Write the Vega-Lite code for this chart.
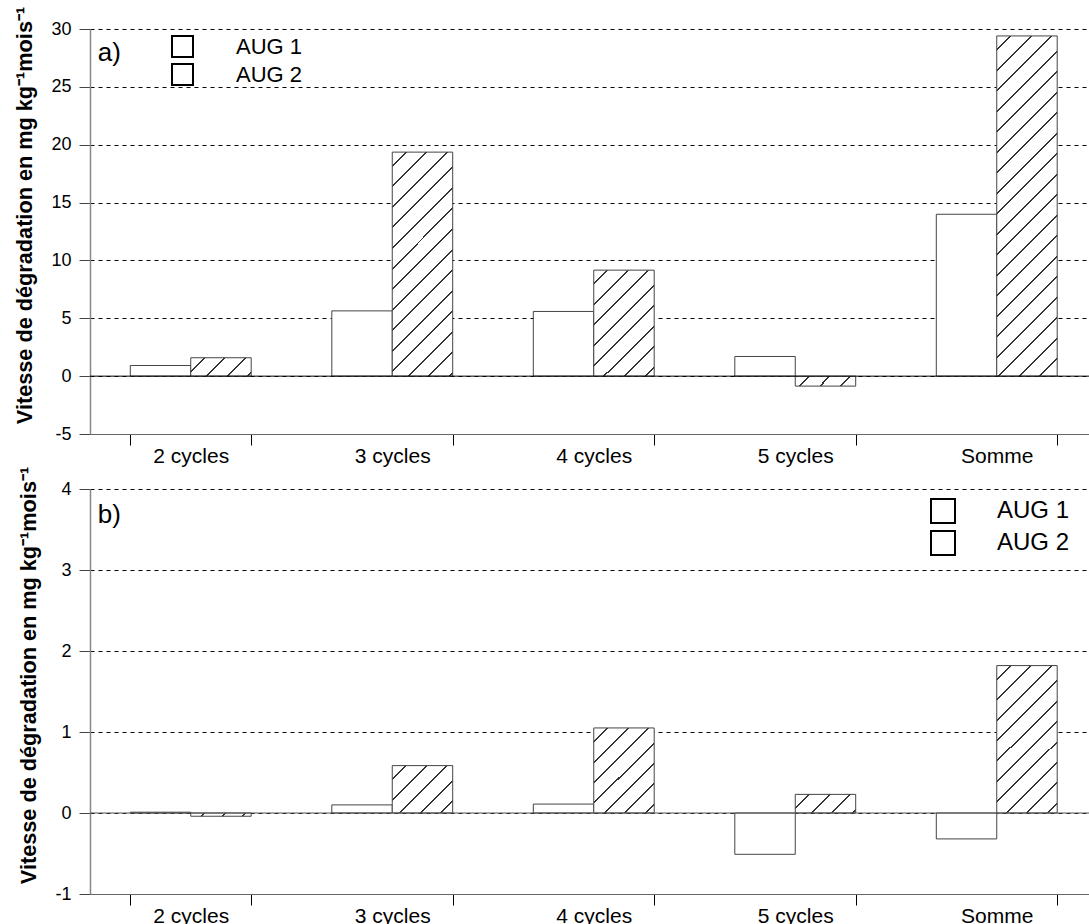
{
  "$schema": "https://vega.github.io/schema/vega-lite/v6.json",
  "padding": {"left": 14, "top": 6, "right": 0, "bottom": 0},
  "config": {
    "font": "Liberation Sans",
    "view": {"stroke": null},
    "axis": {"labelColor": "#000", "titleColor": "#000"},
    "axisY": {"grid": true, "gridDash": [4, 4], "gridColor": "#000", "gridOpacity": 1, "gridWidth": 1, "tickSize": 11, "tickColor": "#444", "domainColor": "#888", "domainWidth": 1.5, "labelFontSize": 18, "labelPadding": 8, "titleFontSize": 21.7, "titleFontWeight": "bold", "titlePadding": 14, "titleY": 186, "labelExpr": "datum.value < 0 ? '-' + abs(datum.value) : '' + datum.value"},
    "axisX": {"grid": false, "tickBand": "extent", "tickSize": 11, "tickColor": "#000", "domainColor": "#666", "labelFontSize": 21, "labelPadding": 0, "labelAngle": 0}
  },
  "datasets": {
    "a": [
      {"cat": "2 cycles", "serie": "AUG 1", "value": 0.92},
      {"cat": "2 cycles", "serie": "AUG 2", "value": 1.59},
      {"cat": "3 cycles", "serie": "AUG 1", "value": 5.64},
      {"cat": "3 cycles", "serie": "AUG 2", "value": 19.36},
      {"cat": "4 cycles", "serie": "AUG 1", "value": 5.59},
      {"cat": "4 cycles", "serie": "AUG 2", "value": 9.16},
      {"cat": "5 cycles", "serie": "AUG 1", "value": 1.7},
      {"cat": "5 cycles", "serie": "AUG 2", "value": -0.86},
      {"cat": "Somme", "serie": "AUG 1", "value": 13.99},
      {"cat": "Somme", "serie": "AUG 2", "value": 29.4}
    ],
    "b": [
      {"cat": "2 cycles", "serie": "AUG 1", "value": 0.01},
      {"cat": "2 cycles", "serie": "AUG 2", "value": -0.04},
      {"cat": "3 cycles", "serie": "AUG 1", "value": 0.1},
      {"cat": "3 cycles", "serie": "AUG 2", "value": 0.585},
      {"cat": "4 cycles", "serie": "AUG 1", "value": 0.11},
      {"cat": "4 cycles", "serie": "AUG 2", "value": 1.05},
      {"cat": "5 cycles", "serie": "AUG 1", "value": -0.51},
      {"cat": "5 cycles", "serie": "AUG 2", "value": 0.23},
      {"cat": "Somme", "serie": "AUG 1", "value": -0.32},
      {"cat": "Somme", "serie": "AUG 2", "value": 1.82}
    ]
  },
  "spacing": 0,
  "resolve": {"scale": {"fill": "independent", "y": "independent"}, "legend": {"fill": "independent"}},
  "vconcat": [
    {
      "width": 1007.5,
      "height": 405,
      "layer": [
        {
          "data": {"name": "a"},
          "mark": {"type": "bar", "stroke": "#444", "strokeWidth": 1},
          "encoding": {
            "x": {"field": "cat", "type": "nominal", "title": null, "scale": {"domain": ["2 cycles", "3 cycles", "4 cycles", "5 cycles", "Somme"], "paddingInner": 0.4, "paddingOuter": 0.2}},
            "xOffset": {"field": "serie", "type": "nominal", "scale": {"domain": ["AUG 1", "AUG 2"], "paddingInner": 0, "paddingOuter": 0}},
            "y": {"field": "value", "type": "quantitative", "title": "Vitesse de dégradation en mg kg⁻¹mois⁻¹", "scale": {"domain": [-5, 30], "nice": false, "zero": false}, "axis": {"values": [-5, 0, 5, 10, 15, 20, 25, 30]}},
            "fill": {
              "field": "serie", "type": "nominal",
              "scale": {"domain": ["AUG 1", "AUG 2"], "range": ["white", "white"]},
              "legend": {"title": null, "orient": "none", "legendX": 81, "legendY": 6, "symbolType": "square", "symbolSize": 441, "symbolStrokeColor": "#000", "symbolStrokeWidth": 2, "symbolOpacity": 1, "labelFontSize": 22, "labelColor": "#000", "labelOffset": 42, "rowPadding": -1, "padding": 0,
                "encode": {"symbols": {"update": {"stroke": {"value": "#000"}, "strokeWidth": {"value": 2}}}}},
              "condition": [
                {"test": "datum.serie === 'AUG 2' && datum.cat === '2 cycles'", "value": {"gradient": "linear", "x1": 0, "y1": 0, "x2": 1.1942, "y2": 0.3655, "stops": [
                  {"offset": 0.1646, "color": "white"}, {"offset": 0.1646, "color": "#333"}, {"offset": 0.19, "color": "#333"}, {"offset": 0.19, "color": "white"},
                  {"offset": 0.4243, "color": "white"}, {"offset": 0.4243, "color": "#333"}, {"offset": 0.4497, "color": "#333"}, {"offset": 0.4497, "color": "white"},
                  {"offset": 0.6839, "color": "white"}, {"offset": 0.6839, "color": "#333"}, {"offset": 0.7093, "color": "#333"}, {"offset": 0.7093, "color": "white"},
                  {"offset": 0.9436, "color": "white"}, {"offset": 0.9436, "color": "#333"}, {"offset": 0.969, "color": "#333"}, {"offset": 0.969, "color": "white"}]}},
                {"test": "datum.serie === 'AUG 2' && datum.cat === '3 cycles'", "value": {"gradient": "linear", "x1": 0, "y1": 0, "x2": 0.3199, "y2": 1.1838, "stops": [
                  {"offset": 0.0458, "color": "white"}, {"offset": 0.0458, "color": "#333"}, {"offset": 0.0528, "color": "#333"}, {"offset": 0.0528, "color": "white"},
                  {"offset": 0.1179, "color": "white"}, {"offset": 0.1179, "color": "#333"}, {"offset": 0.1249, "color": "#333"}, {"offset": 0.1249, "color": "white"},
                  {"offset": 0.1901, "color": "white"}, {"offset": 0.1901, "color": "#333"}, {"offset": 0.1971, "color": "#333"}, {"offset": 0.1971, "color": "white"},
                  {"offset": 0.2622, "color": "white"}, {"offset": 0.2622, "color": "#333"}, {"offset": 0.2692, "color": "#333"}, {"offset": 0.2692, "color": "white"},
                  {"offset": 0.3344, "color": "white"}, {"offset": 0.3344, "color": "#333"}, {"offset": 0.3414, "color": "#333"}, {"offset": 0.3414, "color": "white"},
                  {"offset": 0.4065, "color": "white"}, {"offset": 0.4065, "color": "#333"}, {"offset": 0.4135, "color": "#333"}, {"offset": 0.4135, "color": "white"},
                  {"offset": 0.4786, "color": "white"}, {"offset": 0.4786, "color": "#333"}, {"offset": 0.4856, "color": "#333"}, {"offset": 0.4856, "color": "white"},
                  {"offset": 0.5508, "color": "white"}, {"offset": 0.5508, "color": "#333"}, {"offset": 0.5578, "color": "#333"}, {"offset": 0.5578, "color": "white"},
                  {"offset": 0.6229, "color": "white"}, {"offset": 0.6229, "color": "#333"}, {"offset": 0.6299, "color": "#333"}, {"offset": 0.6299, "color": "white"},
                  {"offset": 0.6951, "color": "white"}, {"offset": 0.6951, "color": "#333"}, {"offset": 0.7021, "color": "#333"}, {"offset": 0.7021, "color": "white"},
                  {"offset": 0.7672, "color": "white"}, {"offset": 0.7672, "color": "#333"}, {"offset": 0.7742, "color": "#333"}, {"offset": 0.7742, "color": "white"},
                  {"offset": 0.8394, "color": "white"}, {"offset": 0.8394, "color": "#333"}, {"offset": 0.8464, "color": "#333"}, {"offset": 0.8464, "color": "white"},
                  {"offset": 0.9115, "color": "white"}, {"offset": 0.9115, "color": "#333"}, {"offset": 0.9185, "color": "#333"}, {"offset": 0.9185, "color": "white"},
                  {"offset": 0.9837, "color": "white"}, {"offset": 0.9837, "color": "#333"}, {"offset": 0.9907, "color": "#333"}, {"offset": 0.9907, "color": "white"}]}},
                {"test": "datum.serie === 'AUG 2' && datum.cat === '4 cycles'", "value": {"gradient": "linear", "x1": 0, "y1": 0, "x2": 0.6735, "y2": 1.1855, "stops": [
                  {"offset": 0.0779, "color": "white"}, {"offset": 0.0779, "color": "#333"}, {"offset": 0.0899, "color": "#333"}, {"offset": 0.0899, "color": "white"},
                  {"offset": 0.2008, "color": "white"}, {"offset": 0.2008, "color": "#333"}, {"offset": 0.2128, "color": "#333"}, {"offset": 0.2128, "color": "white"},
                  {"offset": 0.3236, "color": "white"}, {"offset": 0.3236, "color": "#333"}, {"offset": 0.3356, "color": "#333"}, {"offset": 0.3356, "color": "white"},
                  {"offset": 0.4465, "color": "white"}, {"offset": 0.4465, "color": "#333"}, {"offset": 0.4585, "color": "#333"}, {"offset": 0.4585, "color": "white"},
                  {"offset": 0.5694, "color": "white"}, {"offset": 0.5694, "color": "#333"}, {"offset": 0.5814, "color": "#333"}, {"offset": 0.5814, "color": "white"},
                  {"offset": 0.6922, "color": "white"}, {"offset": 0.6922, "color": "#333"}, {"offset": 0.7042, "color": "#333"}, {"offset": 0.7042, "color": "white"},
                  {"offset": 0.8151, "color": "white"}, {"offset": 0.8151, "color": "#333"}, {"offset": 0.8271, "color": "#333"}, {"offset": 0.8271, "color": "white"},
                  {"offset": 0.938, "color": "white"}, {"offset": 0.938, "color": "#333"}, {"offset": 0.95, "color": "#333"}, {"offset": 0.95, "color": "white"}]}},
                {"test": "datum.serie === 'AUG 2' && datum.cat === '5 cycles'", "value": {"gradient": "linear", "x1": 0, "y1": 0, "x2": 1.1324, "y2": 0.1836, "stops": [
                  {"offset": 0.1851, "color": "white"}, {"offset": 0.1851, "color": "#333"}, {"offset": 0.2135, "color": "#333"}, {"offset": 0.2135, "color": "white"},
                  {"offset": 0.4769, "color": "white"}, {"offset": 0.4769, "color": "#333"}, {"offset": 0.5053, "color": "#333"}, {"offset": 0.5053, "color": "white"},
                  {"offset": 0.7687, "color": "white"}, {"offset": 0.7687, "color": "#333"}, {"offset": 0.7971, "color": "#333"}, {"offset": 0.7971, "color": "white"}]}},
                {"test": "datum.serie === 'AUG 2' && datum.cat === 'Somme'", "value": {"gradient": "linear", "x1": 0, "y1": 0, "x2": 0.2031, "y2": 1.1417, "stops": [
                  {"offset": 0.0325, "color": "white"}, {"offset": 0.0325, "color": "#333"}, {"offset": 0.0375, "color": "#333"}, {"offset": 0.0375, "color": "white"},
                  {"offset": 0.0837, "color": "white"}, {"offset": 0.0837, "color": "#333"}, {"offset": 0.0887, "color": "#333"}, {"offset": 0.0887, "color": "white"},
                  {"offset": 0.1349, "color": "white"}, {"offset": 0.1349, "color": "#333"}, {"offset": 0.1399, "color": "#333"}, {"offset": 0.1399, "color": "white"},
                  {"offset": 0.1861, "color": "white"}, {"offset": 0.1861, "color": "#333"}, {"offset": 0.1911, "color": "#333"}, {"offset": 0.1911, "color": "white"},
                  {"offset": 0.2373, "color": "white"}, {"offset": 0.2373, "color": "#333"}, {"offset": 0.2423, "color": "#333"}, {"offset": 0.2423, "color": "white"},
                  {"offset": 0.2885, "color": "white"}, {"offset": 0.2885, "color": "#333"}, {"offset": 0.2935, "color": "#333"}, {"offset": 0.2935, "color": "white"},
                  {"offset": 0.3397, "color": "white"}, {"offset": 0.3397, "color": "#333"}, {"offset": 0.3447, "color": "#333"}, {"offset": 0.3447, "color": "white"},
                  {"offset": 0.3909, "color": "white"}, {"offset": 0.3909, "color": "#333"}, {"offset": 0.3959, "color": "#333"}, {"offset": 0.3959, "color": "white"},
                  {"offset": 0.4421, "color": "white"}, {"offset": 0.4421, "color": "#333"}, {"offset": 0.4471, "color": "#333"}, {"offset": 0.4471, "color": "white"},
                  {"offset": 0.4933, "color": "white"}, {"offset": 0.4933, "color": "#333"}, {"offset": 0.4983, "color": "#333"}, {"offset": 0.4983, "color": "white"},
                  {"offset": 0.5445, "color": "white"}, {"offset": 0.5445, "color": "#333"}, {"offset": 0.5495, "color": "#333"}, {"offset": 0.5495, "color": "white"},
                  {"offset": 0.5957, "color": "white"}, {"offset": 0.5957, "color": "#333"}, {"offset": 0.6007, "color": "#333"}, {"offset": 0.6007, "color": "white"},
                  {"offset": 0.6469, "color": "white"}, {"offset": 0.6469, "color": "#333"}, {"offset": 0.6519, "color": "#333"}, {"offset": 0.6519, "color": "white"},
                  {"offset": 0.6981, "color": "white"}, {"offset": 0.6981, "color": "#333"}, {"offset": 0.7031, "color": "#333"}, {"offset": 0.7031, "color": "white"},
                  {"offset": 0.7493, "color": "white"}, {"offset": 0.7493, "color": "#333"}, {"offset": 0.7543, "color": "#333"}, {"offset": 0.7543, "color": "white"},
                  {"offset": 0.8005, "color": "white"}, {"offset": 0.8005, "color": "#333"}, {"offset": 0.8055, "color": "#333"}, {"offset": 0.8055, "color": "white"},
                  {"offset": 0.8517, "color": "white"}, {"offset": 0.8517, "color": "#333"}, {"offset": 0.8567, "color": "#333"}, {"offset": 0.8567, "color": "white"},
                  {"offset": 0.9029, "color": "white"}, {"offset": 0.9029, "color": "#333"}, {"offset": 0.9079, "color": "#333"}, {"offset": 0.9079, "color": "white"},
                  {"offset": 0.9541, "color": "white"}, {"offset": 0.9541, "color": "#333"}, {"offset": 0.9591, "color": "#333"}, {"offset": 0.9591, "color": "white"}]}}
              ]
            }
          }
        },
        {
          "data": {"values": [{}]},
          "mark": {"type": "rule", "color": "#000", "strokeWidth": 1},
          "encoding": {"y": {"datum": 0}}
        },
        {
          "data": {"values": [{"label": "a)"}]},
          "mark": {"type": "text", "align": "left", "baseline": "alphabetic", "fontSize": 26, "dx": -93, "color": "#000"},
          "encoding": {"x": {"datum": "2 cycles"}, "y": {"datum": 27.25}, "text": {"field": "label"}}
        }
      ]
    },
    {
      "width": 1007.5,
      "height": 405,
      "layer": [
        {
          "data": {"name": "b"},
          "mark": {"type": "bar", "stroke": "#444", "strokeWidth": 1},
          "encoding": {
            "x": {"field": "cat", "type": "nominal", "title": null, "scale": {"domain": ["2 cycles", "3 cycles", "4 cycles", "5 cycles", "Somme"], "paddingInner": 0.4, "paddingOuter": 0.2}},
            "xOffset": {"field": "serie", "type": "nominal", "scale": {"domain": ["AUG 1", "AUG 2"], "paddingInner": 0, "paddingOuter": 0}},
            "y": {"field": "value", "type": "quantitative", "title": "Vitesse de dégradation en mg kg⁻¹mois⁻¹", "scale": {"domain": [-1, 4], "nice": false, "zero": false}, "axis": {"values": [-1, 0, 1, 2, 3, 4]}},
            "fill": {
              "field": "serie", "type": "nominal",
              "scale": {"domain": ["AUG 1", "AUG 2"], "range": ["white", "white"]},
              "legend": {"title": null, "orient": "none", "legendX": 840, "legendY": 9, "symbolType": "square", "symbolSize": 576, "symbolStrokeColor": "#000", "symbolStrokeWidth": 2, "symbolOpacity": 1, "labelFontSize": 24, "labelColor": "#000", "labelOffset": 41, "rowPadding": 0, "padding": 0,
                "encode": {"symbols": {"update": {"stroke": {"value": "#000"}, "strokeWidth": {"value": 2}}}}},
              "condition": [
                {"test": "datum.serie === 'AUG 2' && datum.cat === '2 cycles'", "value": {"gradient": "linear", "x1": 0, "y1": 0, "x2": 1.0507, "y2": 0.0565, "stops": [
                  {"offset": 0.2041, "color": "white"}, {"offset": 0.2041, "color": "#333"}, {"offset": 0.2355, "color": "#333"}, {"offset": 0.2355, "color": "white"},
                  {"offset": 0.5259, "color": "white"}, {"offset": 0.5259, "color": "#333"}, {"offset": 0.5573, "color": "#333"}, {"offset": 0.5573, "color": "white"},
                  {"offset": 0.8477, "color": "white"}, {"offset": 0.8477, "color": "#333"}, {"offset": 0.8791, "color": "#333"}, {"offset": 0.8791, "color": "white"}]}},
                {"test": "datum.serie === 'AUG 2' && datum.cat === '3 cycles'", "value": {"gradient": "linear", "x1": 0, "y1": 0, "x2": 1.1033, "y2": 0.8688, "stops": [
                  {"offset": 0.1203, "color": "white"}, {"offset": 0.1203, "color": "#333"}, {"offset": 0.1389, "color": "#333"}, {"offset": 0.1389, "color": "white"},
                  {"offset": 0.31, "color": "white"}, {"offset": 0.31, "color": "#333"}, {"offset": 0.3286, "color": "#333"}, {"offset": 0.3286, "color": "white"},
                  {"offset": 0.4997, "color": "white"}, {"offset": 0.4997, "color": "#333"}, {"offset": 0.5183, "color": "#333"}, {"offset": 0.5183, "color": "white"},
                  {"offset": 0.6894, "color": "white"}, {"offset": 0.6894, "color": "#333"}, {"offset": 0.708, "color": "#333"}, {"offset": 0.708, "color": "white"},
                  {"offset": 0.8792, "color": "white"}, {"offset": 0.8792, "color": "#333"}, {"offset": 0.8978, "color": "#333"}, {"offset": 0.8978, "color": "white"}]}},
                {"test": "datum.serie === 'AUG 2' && datum.cat === '4 cycles'", "value": {"gradient": "linear", "x1": 0, "y1": 0, "x2": 0.8054, "y2": 1.1378, "stops": [
                  {"offset": 0.0891, "color": "white"}, {"offset": 0.0891, "color": "#333"}, {"offset": 0.1029, "color": "#333"}, {"offset": 0.1029, "color": "white"},
                  {"offset": 0.2296, "color": "white"}, {"offset": 0.2296, "color": "#333"}, {"offset": 0.2434, "color": "#333"}, {"offset": 0.2434, "color": "white"},
                  {"offset": 0.3702, "color": "white"}, {"offset": 0.3702, "color": "#333"}, {"offset": 0.384, "color": "#333"}, {"offset": 0.384, "color": "white"},
                  {"offset": 0.5108, "color": "white"}, {"offset": 0.5108, "color": "#333"}, {"offset": 0.5246, "color": "#333"}, {"offset": 0.5246, "color": "white"},
                  {"offset": 0.6513, "color": "white"}, {"offset": 0.6513, "color": "#333"}, {"offset": 0.6651, "color": "#333"}, {"offset": 0.6651, "color": "white"},
                  {"offset": 0.7919, "color": "white"}, {"offset": 0.7919, "color": "#333"}, {"offset": 0.8057, "color": "#333"}, {"offset": 0.8057, "color": "white"},
                  {"offset": 0.9324, "color": "white"}, {"offset": 0.9324, "color": "#333"}, {"offset": 0.9462, "color": "#333"}, {"offset": 0.9462, "color": "white"}]}},
                {"test": "datum.serie === 'AUG 2' && datum.cat === '5 cycles'", "value": {"gradient": "linear", "x1": 0, "y1": 0, "x2": 1.195, "y2": 0.3697, "stops": [
                  {"offset": 0.1643, "color": "white"}, {"offset": 0.1643, "color": "#333"}, {"offset": 0.1895, "color": "#333"}, {"offset": 0.1895, "color": "white"},
                  {"offset": 0.4233, "color": "white"}, {"offset": 0.4233, "color": "#333"}, {"offset": 0.4485, "color": "#333"}, {"offset": 0.4485, "color": "white"},
                  {"offset": 0.6823, "color": "white"}, {"offset": 0.6823, "color": "#333"}, {"offset": 0.7075, "color": "#333"}, {"offset": 0.7075, "color": "white"},
                  {"offset": 0.9413, "color": "white"}, {"offset": 0.9413, "color": "#333"}, {"offset": 0.9665, "color": "#333"}, {"offset": 0.9665, "color": "white"}]}},
                {"test": "datum.serie === 'AUG 2' && datum.cat === 'Somme'", "value": {"gradient": "linear", "x1": 0, "y1": 0, "x2": 0.493, "y2": 1.2071, "stops": [
                  {"offset": 0.0624, "color": "white"}, {"offset": 0.0624, "color": "#333"}, {"offset": 0.072, "color": "#333"}, {"offset": 0.072, "color": "white"},
                  {"offset": 0.1607, "color": "white"}, {"offset": 0.1607, "color": "#333"}, {"offset": 0.1703, "color": "#333"}, {"offset": 0.1703, "color": "white"},
                  {"offset": 0.2591, "color": "white"}, {"offset": 0.2591, "color": "#333"}, {"offset": 0.2687, "color": "#333"}, {"offset": 0.2687, "color": "white"},
                  {"offset": 0.3574, "color": "white"}, {"offset": 0.3574, "color": "#333"}, {"offset": 0.367, "color": "#333"}, {"offset": 0.367, "color": "white"},
                  {"offset": 0.4557, "color": "white"}, {"offset": 0.4557, "color": "#333"}, {"offset": 0.4653, "color": "#333"}, {"offset": 0.4653, "color": "white"},
                  {"offset": 0.5541, "color": "white"}, {"offset": 0.5541, "color": "#333"}, {"offset": 0.5637, "color": "#333"}, {"offset": 0.5637, "color": "white"},
                  {"offset": 0.6524, "color": "white"}, {"offset": 0.6524, "color": "#333"}, {"offset": 0.662, "color": "#333"}, {"offset": 0.662, "color": "white"},
                  {"offset": 0.7508, "color": "white"}, {"offset": 0.7508, "color": "#333"}, {"offset": 0.7604, "color": "#333"}, {"offset": 0.7604, "color": "white"},
                  {"offset": 0.8491, "color": "white"}, {"offset": 0.8491, "color": "#333"}, {"offset": 0.8587, "color": "#333"}, {"offset": 0.8587, "color": "white"},
                  {"offset": 0.9475, "color": "white"}, {"offset": 0.9475, "color": "#333"}, {"offset": 0.9571, "color": "#333"}, {"offset": 0.9571, "color": "white"}]}}
              ]
            }
          }
        },
        {
          "data": {"values": [{}]},
          "mark": {"type": "rule", "color": "#555", "strokeWidth": 1},
          "encoding": {"y": {"datum": 0}}
        },
        {
          "data": {"values": [{"label": "b)"}]},
          "mark": {"type": "text", "align": "left", "baseline": "alphabetic", "fontSize": 26, "dx": -93, "color": "#000"},
          "encoding": {"x": {"datum": "2 cycles"}, "y": {"datum": 3.585}, "text": {"field": "label"}}
        }
      ]
    }
  ]
}
